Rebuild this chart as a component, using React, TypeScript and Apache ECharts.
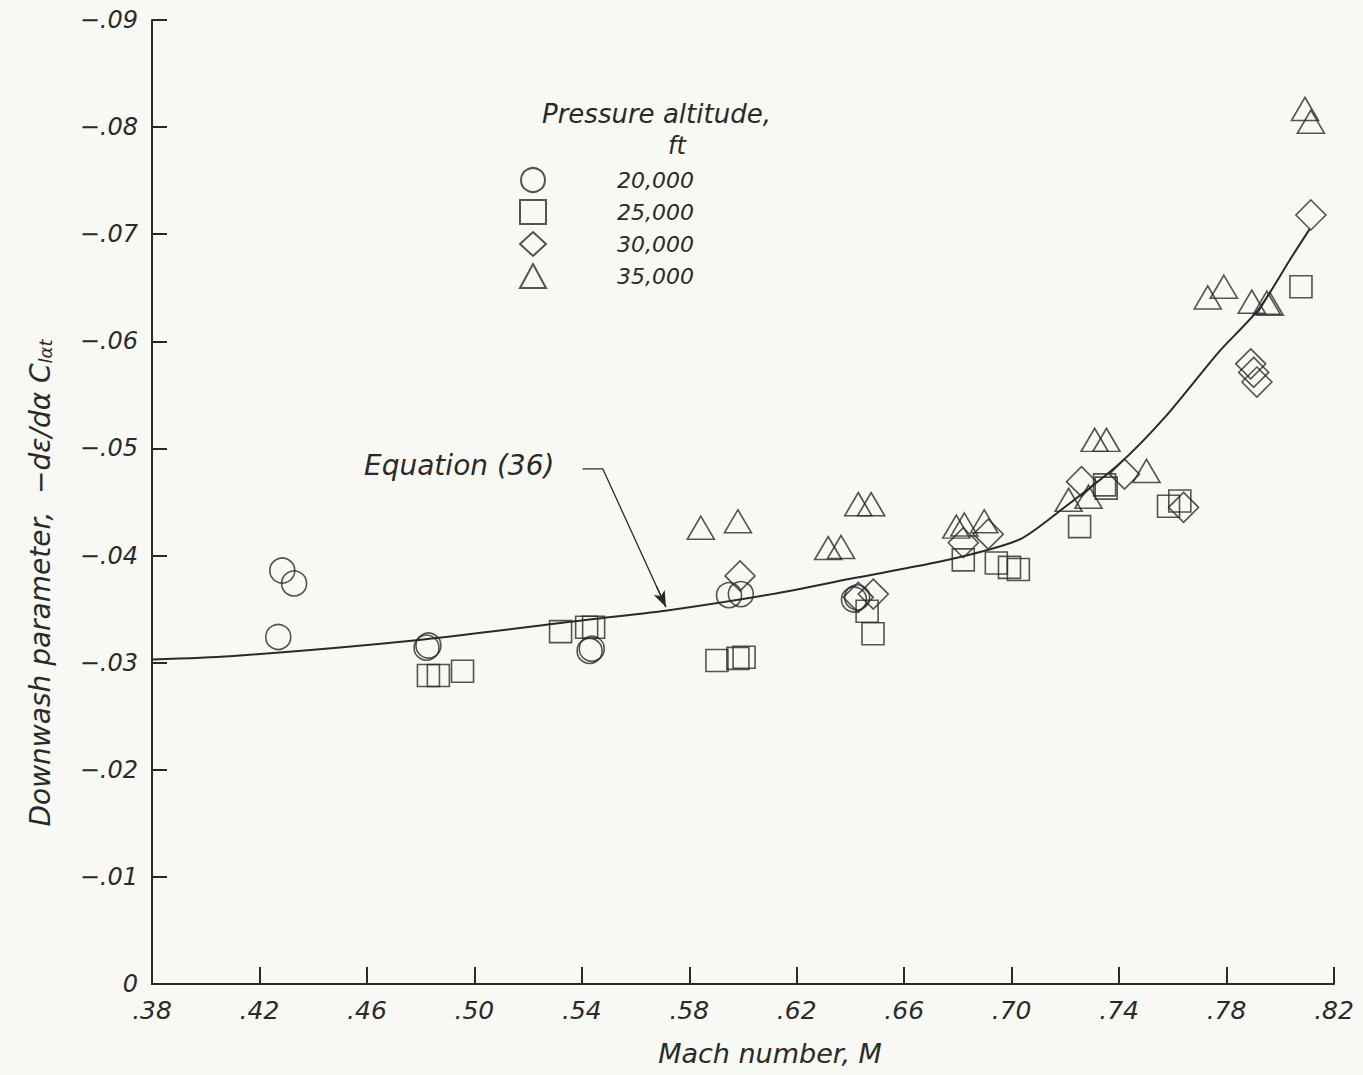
import React, { useEffect, useRef } from "react";
import * as echarts from "echarts";

// ---- Data (Mach number, downwash parameter) ----
const X_MIN = 0.38;
const X_MAX = 0.82;
const X_STEP = 0.04;
const Y_TICKS = [0, -0.01, -0.02, -0.03, -0.04, -0.05, -0.06, -0.07, -0.08, -0.09];

const ALT_20000_M = [0.4285, 0.4329, 0.427, 0.4822, 0.4829, 0.5429, 0.5437, 0.5948, 0.5992, 0.6413, 0.6425];
const ALT_20000_V = [-0.0386, -0.0374, -0.0324, -0.0314, -0.0316, -0.0311, -0.0313, -0.0363, -0.0364, -0.0359, -0.0361];

const ALT_25000_M = [0.4829, 0.4866, 0.4956, 0.5321, 0.5418, 0.5444, 0.5903, 0.5981, 0.6004, 0.6462, 0.6484, 0.682, 0.6943, 0.6992, 0.7025, 0.7253, 0.7346, 0.7352, 0.7584, 0.7626, 0.8077];
const ALT_25000_V = [-0.0288, -0.0288, -0.0292, -0.0329, -0.0333, -0.0333, -0.0302, -0.0304, -0.0305, -0.0348, -0.0327, -0.0396, -0.0393, -0.0389, -0.0387, -0.0427, -0.0466, -0.0463, -0.0446, -0.0451, -0.0651];

const ALT_30000_M = [0.5989, 0.6429, 0.6485, 0.682, 0.6913, 0.726, 0.742, 0.764, 0.789, 0.7901, 0.7913, 0.8114];
const ALT_30000_V = [-0.0381, -0.0361, -0.0364, -0.0412, -0.042, -0.0469, -0.0476, -0.0445, -0.0579, -0.0571, -0.0562, -0.0718];

const ALT_35000_M = [0.5843, 0.5981, 0.6317, 0.6365, 0.6429, 0.6477, 0.6794, 0.6824, 0.6898, 0.7212, 0.7286, 0.7309, 0.7353, 0.7502, 0.773, 0.779, 0.7894, 0.795, 0.7961, 0.8092, 0.8114];
const ALT_35000_V = [-0.0426, -0.0432, -0.0407, -0.0408, -0.0448, -0.0448, -0.0427, -0.0429, -0.0432, -0.0452, -0.0455, -0.0508, -0.0508, -0.0479, -0.0641, -0.0651, -0.0637, -0.0636, -0.0635, -0.0817, -0.0805];

const EQ36_M = [0.38, 0.409, 0.4784, 0.5452, 0.5724, 0.6108, 0.6414, 0.6764, 0.7029, 0.7186, 0.7398, 0.757, 0.7771, 0.792, 0.8043, 0.811];
const EQ36_V = [-0.0303, -0.0306, -0.0321, -0.0341, -0.0349, -0.0364, -0.0379, -0.0396, -0.0415, -0.0443, -0.0485, -0.0529, -0.059, -0.063, -0.0679, -0.0705];

const LEADER_M = [0.5403, 0.5478, 0.5713];
const LEADER_V = [-0.0481, -0.0481, -0.0352];

const LEGEND_NAMES = ["20,000", "25,000", "30,000", "35,000"];

const INK = "#2a2a2a";
const FONT = "DejaVu Sans";

export default function App() {
  const ref = useRef<HTMLDivElement>(null);

  useEffect(() => {
    if (!ref.current) return;
    const chart = echarts.init(ref.current, null, { renderer: "svg" });
    const sx = (m: number) => m - X_MIN; // shift so ticks count from 0
    const pts = (ms: number[], vs: number[]) => ms.map((m, i) => [sx(m), vs[i]]);

    const markerStyle = {
      color: "rgba(0,0,0,0)",
      borderColor: INK,
      borderWidth: 1.6,
    };

    const scatter = (name: string, symbol: string, size: any, ms: number[], vs: number[]) => ({
      name,
      type: "scatter",
      symbol,
      symbolSize: size,
      itemStyle: markerStyle,
      data: pts(ms, vs),
      z: 3,
    });

    const option: any = {
      animation: false,
      backgroundColor: "#f8f8f4",
      textStyle: { fontFamily: FONT, fontStyle: "italic", color: INK },
      grid: { left: 152, right: 29, top: 20, bottom: 91 },
      xAxis: {
        type: "value",
        min: 0,
        max: X_MAX - X_MIN,
        interval: X_STEP,
        splitLine: { show: false },
        axisLine: { lineStyle: { color: INK, width: 2 } },
        axisTick: { inside: true, length: 17, lineStyle: { color: INK, width: 2 } },
        axisLabel: {
          margin: 14,
          fontSize: 25,
          fontFamily: FONT,
          fontStyle: "italic",
          color: INK,
          formatter: (v: number) => "." + Math.round((v + X_MIN) * 100),
        },
        name: "Mach number, M",
        nameLocation: "middle",
        nameGap: 56,
        nameTextStyle: { fontSize: 27, fontFamily: FONT, fontStyle: "italic", color: INK, padding: [0, 0, 0, 54] },
      },
      yAxis: {
        type: "value",
        inverse: true,
        min: Y_TICKS[Y_TICKS.length - 1],
        max: Y_TICKS[0],
        interval: 0.01,
        splitLine: { show: false },
        axisLine: { lineStyle: { color: INK, width: 2 } },
        axisTick: { inside: true, length: 15, lineStyle: { color: INK, width: 2 } },
        axisLabel: {
          margin: 14,
          fontSize: 24,
          fontFamily: FONT,
          fontStyle: "italic",
          color: INK,
          formatter: (v: number) => {
            const k = Math.abs(Math.round(v * 100));
            return k === 0 ? "0" : "−.0" + k;
          },
        },
      },
      legend: {
        orient: "vertical",
        left: 514,
        top: 162,
        itemGap: 6,
        itemWidth: 26,
        itemHeight: 24,
        data: LEGEND_NAMES,
        textStyle: {
          fontSize: 22,
          lineHeight: 24,
          fontFamily: FONT,
          fontStyle: "italic",
          color: INK,
          padding: [0, 0, 0, 66],
        },
        selectedMode: false,
      },
      graphic: [
        {
          type: "text",
          left: 542,
          top: 101,
          style: { text: "Pressure altitude,", font: `italic 26px "${FONT}"`, fill: INK },
        },
        {
          type: "text",
          left: 668,
          top: 134,
          style: { text: "ft", font: `italic 24px "${FONT}"`, fill: INK },
        },
        {
          type: "text",
          left: 364,
          top: 451,
          style: { text: "Equation (36)", font: `italic 28px "${FONT}"`, fill: INK },
        },
        {
          type: "text",
          x: 40,
          y: 583,
          rotation: Math.PI / 2,
          style: {
            text: "Downwash parameter,  −dε/dα C{s|lαt}",
            font: `italic 28px "${FONT}"`,
            fill: INK,
            align: "center",
            verticalAlign: "middle",
            rich: {
              s: { fontSize: 18, fontFamily: FONT, fontStyle: "italic", fill: INK, padding: [10, 0, 0, 0] },
            },
          },
        },
      ],
      series: [
        scatter(LEGEND_NAMES[0], "circle", 25, ALT_20000_M, ALT_20000_V),
        scatter(LEGEND_NAMES[1], "rect", 22, ALT_25000_M, ALT_25000_V),
        scatter(LEGEND_NAMES[2], "diamond", 30, ALT_30000_M, ALT_30000_V),
        scatter(LEGEND_NAMES[3], "triangle", [27, 23], ALT_35000_M, ALT_35000_V),
        {
          name: "Equation (36)",
          type: "line",
          smooth: 0.25,
          symbol: "none",
          lineStyle: { color: INK, width: 2 },
          data: pts(EQ36_M, EQ36_V),
          z: 2,
        },
        {
          name: "leader",
          type: "line",
          symbol: "none",
          lineStyle: { color: INK, width: 1.3 },
          data: pts(LEADER_M, LEADER_V),
          markLine: {
            silent: true,
            symbol: ["none", "arrow"],
            symbolSize: [9, 16],
            label: { show: false },
            lineStyle: { color: INK, width: 1.3, type: "solid" },
            data: [
              [
                { coord: [sx(LEADER_M[1] + (LEADER_M[2] - LEADER_M[1]) * 0.85), LEADER_V[1] + (LEADER_V[2] - LEADER_V[1]) * 0.85] },
                { coord: [sx(LEADER_M[2]), LEADER_V[2]] },
              ],
            ],
          },
          z: 2,
        },
      ],
    };

    chart.setOption(option);
    return () => chart.dispose();
  }, []);

  return (
    <div
      ref={ref}
      style={{ position: "fixed", left: 0, top: 0, width: 1363, height: 1075 }}
    />
  );
}
